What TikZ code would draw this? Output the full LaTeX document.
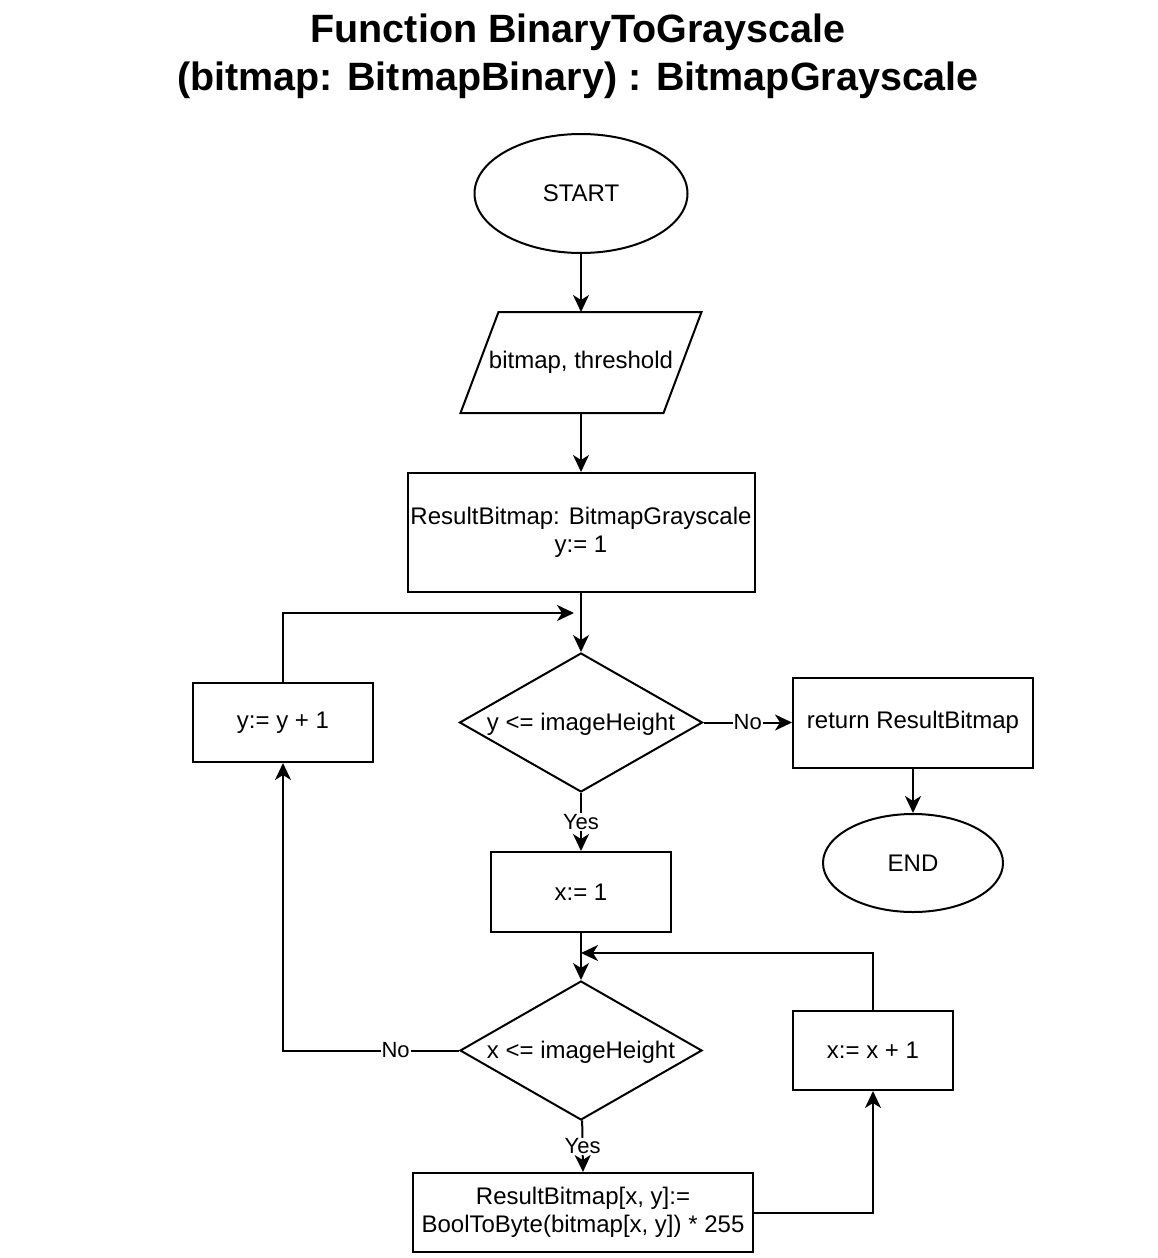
\documentclass[tikz,border=0pt]{standalone}
\usepackage{fontspec}
\setmainfont{Liberation Sans}
\usetikzlibrary{shapes.geometric,arrows.meta}
\begin{document}
\begin{tikzpicture}[x=1pt,y=-1pt,line width=2pt,
  every node/.style={font=\fontsize{24}{28}\selectfont, inner sep=0pt, align=center},
  box/.style={draw, rectangle},
  term/.style={draw, ellipse},
  cond/.style={draw, diamond},
  lbl/.style={fill=white, font=\fontsize{22}{25}\selectfont, inner sep=1pt},
  arr/.style={-{Stealth[length=17pt,width=16pt,inset=5pt]}}]
\useasboundingbox (0,0) rectangle (1158,1258);
% title
\node[font=\bfseries\fontsize{39.5}{48}\selectfont] (title) at (578,56) {Function BinaryToGrayscale\\(bitmap: BitmapBinary) : BitmapGrayscale};
% nodes
\node[term, minimum width=213, minimum height=119] (start) at (581,193.5) {START};
\node[minimum width=239, minimum height=99] (inp) at (581,362.5) {bitmap, threshold};
\draw (inp.south west) -- ([xshift=-38pt]inp.south east) -- (inp.north east) -- ([xshift=38pt]inp.north west) -- cycle;
\node[box, minimum width=347, minimum height=119] (init) at (581,532.5) {ResultBitmap: BitmapGrayscale\\y:= 1};
\node[cond, minimum width=243, minimum height=139, label={[yshift=-2pt]center:{y <= imageHeight}}] (c1) at (581,722.5) {};
\node[box, minimum width=180, minimum height=79] (incy) at (283,722.5) {y:= y + 1};
\node[box, minimum width=240, minimum height=90] (ret) at (913,722.5) {return ResultBitmap};
\node[term, minimum width=180, minimum height=98] (end) at (913,863) {END};
\node[box, minimum width=180, minimum height=80] (x1) at (581,892) {x:= 1};
\node[cond, minimum width=242, minimum height=139, label={[yshift=-2pt]center:{x <= imageHeight}}] (c2) at (581,1050.5) {};
\node[box, minimum width=160, minimum height=79] (incx) at (873,1050.5) {x:= x + 1};
\node[box, minimum width=340, minimum height=79] (set) at (583,1212.5) {ResultBitmap[x, y]:=\\BoolToByte(bitmap[x, y]) * 255};
\coordinate (jy) at (574,613);
\coordinate (jx) at (581,953);
% edges
\draw[arr] (start) -- (inp);
\draw[arr] (inp) -- (init);
\draw[arr] (init) -- (c1);
\draw[arr] (c1) -- node[lbl]{Yes} (x1);
\draw[arr] (c1) -- node[lbl]{No} (ret);
\draw[arr] (ret) -- (end);
\draw[arr] (x1) -- (c2);
\draw[arr] (c2) -- node[lbl]{Yes} (set.north);
\draw[arr] (c2.west) -| node[lbl,pos=0.18]{No} (incy.south);
\draw[arr] (incy.north) |- (jy);
\draw[arr] (set.east) -| (incx.south);
\draw[arr] (incx.north) |- (jx);
\end{tikzpicture}
\end{document}
